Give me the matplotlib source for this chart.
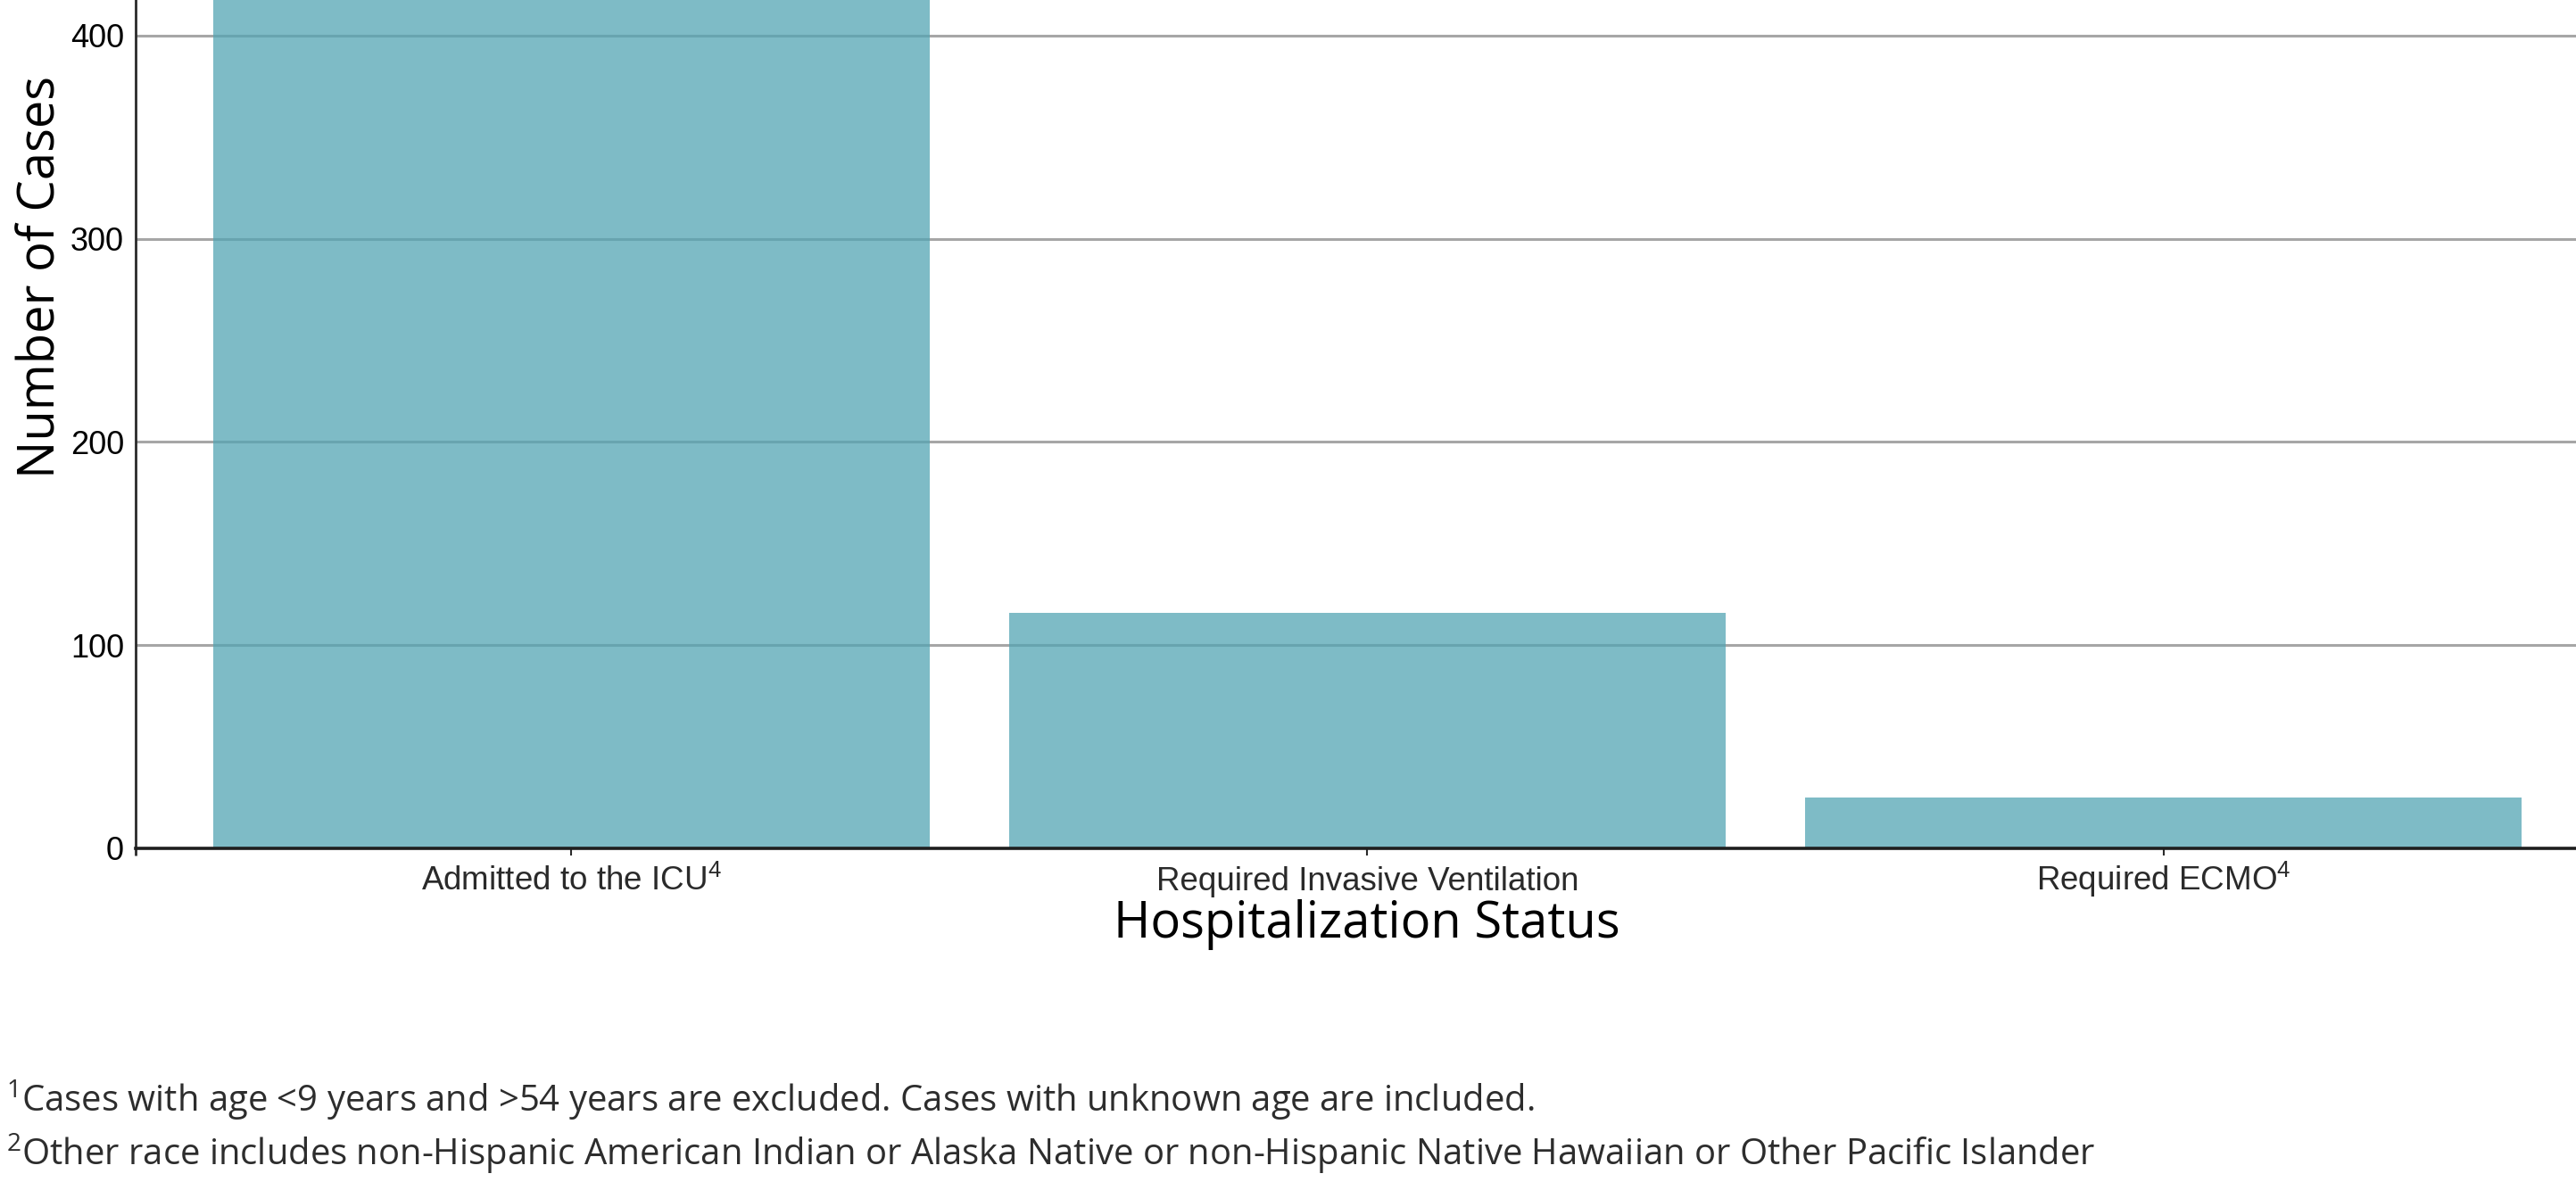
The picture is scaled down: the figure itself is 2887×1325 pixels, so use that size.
import numpy as np
import matplotlib
matplotlib.use("Agg")
import matplotlib.pyplot as plt

# --- data ---
categories = [r"Admitted to the ICU$^{\mathregular{4}}$",
              "Required Invasive Ventilation",
              r"Required ECMO$^{\mathregular{4}}$"]
cases = [480, 116, 25]   # first bar runs off the top of the image, value is a guess
y_ticks = [0, 100, 200, 300, 400]
footnotes = [
    r"$^{\mathregular{1}}$Cases with age <9 years and >54 years are excluded. Cases with unknown age are included.",
    r"$^{\mathregular{2}}$Other race includes non-Hispanic American Indian or Alaska Native or non-Hispanic Native Hawaiian or Other Pacific Islander",
]

W, H = 2887, 1325
fig = plt.figure(figsize=(W / 100, H / 100), dpi=100)

# plot area: left edge at x=151px, zero line at y=951px, top runs above the image
left, right = 151.5, 2912.5
bottom, top = 951, -329
ax = fig.add_axes([left / W, 1 - bottom / H, (right - left) / W, (bottom - top) / H])

x = np.arange(len(categories))
ax.bar(x, cases, width=0.9, color=(83/255, 164/255, 179/255), alpha=0.75, zorder=2)

ax.set_xlim(-0.548, 2.547)
ax.set_ylim(0, 562)

ax.set_yticks(y_ticks)
ax.set_yticklabels([str(v) for v in y_ticks])
ax.set_xticks(x)
ax.set_xticklabels(categories)

ax.grid(axis="y", color="#a6a6a6", linewidth=2.2, zorder=0)
ax.set_axisbelow(True)

for s in ["top", "right"]:
    ax.spines[s].set_visible(False)
ax.spines["bottom"].set_color("#1e1e1e")
ax.spines["bottom"].set_linewidth(2.6)
ax.spines["bottom"].set_zorder(3)
ax.spines["left"].set_color("#2a2a2a")
ax.spines["left"].set_linewidth(2.0)

ax.tick_params(axis="y", which="major", length=0, pad=9, labelsize=26, labelcolor="#000000")
ax.tick_params(axis="x", which="major", length=6, width=1.5, color="#2a2a2a",
               pad=27.5, labelsize=26.5, labelcolor="#2a2a2a")
for lbl in ax.get_xticklabels():
    lbl.set_fontfamily("Liberation Sans")
    lbl.set_va("baseline")
for lbl in ax.get_yticklabels():
    lbl.set_fontfamily("Liberation Sans")

# small overhangs where the two axis lines cross
ax.set_yticks([0], minor=True)
ax.tick_params(axis="y", which="minor", length=8, width=2.6, color="#1e1e1e")
ax.set_xticks([-0.548], minor=True)
ax.tick_params(axis="x", which="minor", length=6, width=2.0, color="#2a2a2a")

fig.text(1532 / W, 1 - 1051 / H, "Hospitalization Status", family="Open Sans",
         fontsize=40.4, color="black", ha="center", va="baseline")
fig.text(47 / W, 1 - 311 / H, "Number of Cases", family="Open Sans",
         fontsize=40.4, color="black", ha="center", va="center", rotation=90)

for i, note in enumerate(footnotes):
    fig.text(7 / W, 1 - (1246 + 60 * i) / H, note, family="Open Sans",
             fontsize=28.8, color="#2d2d2d", ha="left", va="baseline")

fig.savefig("out.png", dpi=100)
